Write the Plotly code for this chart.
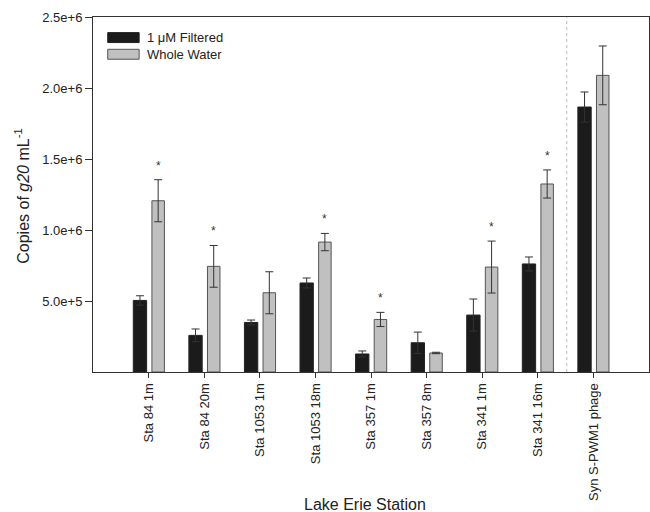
import plotly.graph_objects as go

stations = ["Sta 84 1m", "Sta 84 20m", "Sta 1053 1m", "Sta 1053 18m", "Sta 357 1m",
            "Sta 357 8m", "Sta 341 1m", "Sta 341 16m", "Syn S-PWM1 phage"]
filtered = [504000, 258000, 349000, 627000, 127000, 206000, 401000, 761000, 1866000]
filtered_err = [33000, 45000, 17000, 35000, 21000, 75000, 113000, 49000, 106000]
whole = [1206000, 744000, 558000, 915000, 370000, 134000, 739000, 1324000, 2089000]
whole_err = [148000, 147000, 148000, 61000, 50000, 5000, 183000, 99000, 207000]
significant = [True, True, False, True, True, False, True, True, False]
ytick_vals = [500000, 1000000, 1500000, 2000000, 2500000]
ytick_text = ["5.0e+5", "1.0e+6", "1.5e+6", "2.0e+6", "2.5e+6"]
series_names = ["1 \u03bcM Filtered", "Whole Water"]

FONT = "Liberation Sans, Arial, sans-serif"
xpos = list(range(len(stations)))

fig = go.Figure()
fig.add_trace(go.Bar(
    x=xpos, y=filtered, name=series_names[0], offset=-0.28, width=0.24,
    marker=dict(color="#1b1b1b", line=dict(color="#222222", width=1)),
    error_y=dict(type="data", array=filtered_err, visible=True, color="#333333", thickness=1, width=4),
    showlegend=False))
fig.add_trace(go.Bar(
    x=xpos, y=whole, name=series_names[1], offset=0.055, width=0.225,
    marker=dict(color="#c0c0c0", line=dict(color="#555555", width=1)),
    error_y=dict(type="data", array=whole_err, visible=True, color="#333333", thickness=1, width=4),
    showlegend=False))

annotations = []
for i, sig in enumerate(significant):
    if sig:
        annotations.append(dict(x=i + 0.1675, y=whole[i] + whole_err[i], xref="x", yref="y",
                                text="*", showarrow=False, yanchor="middle", yshift=14,
                                font=dict(family=FONT, size=12, color="#333333")))

# custom legend
shapes = [
    dict(type="line", xref="x", yref="paper", x0=7.52, x1=7.52, y0=0, y1=1,
         line=dict(color="#bbbbbb", width=1, dash="dot")),
    dict(type="rect", xref="paper", yref="paper", x0=0.0265, x1=0.0830, y0=0.928, y1=0.956,
         fillcolor="#1b1b1b", line=dict(color="#222222", width=1)),
    dict(type="rect", xref="paper", yref="paper", x0=0.0265, x1=0.0830, y0=0.881, y1=0.909,
         fillcolor="#c0c0c0", line=dict(color="#555555", width=1)),
]
legend_y = [0.942, 0.895]
for name, ly in zip(series_names, legend_y):
    annotations.append(dict(x=0.093, y=ly, xref="paper", yref="paper", text=name,
                            showarrow=False, xanchor="left", yanchor="middle",
                            font=dict(family=FONT, size=13, color="#222222")))

annotations.append(dict(x=-0.128, y=0.496, xref="paper", yref="paper",
                        text="Copies of <i>g20</i> mL<sup>-1</sup>", textangle=-90,
                        showarrow=False, xanchor="center", yanchor="middle",
                        font=dict(family=FONT, size=16, color="#222222")))
annotations.append(dict(x=0.49, y=-0.374, xref="paper", yref="paper",
                        text="Lake Erie Station", showarrow=False,
                        xanchor="center", yanchor="middle",
                        font=dict(family=FONT, size=16, color="#222222")))

fig.update_layout(
    width=650, height=512,
    margin=dict(l=93, r=1, t=17, b=140),
    paper_bgcolor="white", plot_bgcolor="white",
    barmode="overlay",
    font=dict(family=FONT, size=13, color="#222222"),
    shapes=shapes, annotations=annotations,
    xaxis=dict(range=[-1.005, 9.0], tickvals=xpos, ticktext=stations, tickangle=-90,
               ticks="outside", ticklen=5, tickcolor="#333333",
               showline=True, linecolor="#333333", linewidth=1, mirror=True,
               showgrid=False, zeroline=False, tickfont=dict(family=FONT, size=13)),
    yaxis=dict(range=[0, 2500000], tickvals=ytick_vals, ticktext=ytick_text,
               ticks="outside", ticklen=7, tickcolor="#333333",
               showline=True, linecolor="#333333", linewidth=1, mirror=True,
               showgrid=False, zeroline=False, tickfont=dict(family=FONT, size=13)),
)

fig.write_html("out.html", config={"displayModeBar": False},
               post_script="document.body.style.margin='0';document.body.style.overflow='hidden';")
